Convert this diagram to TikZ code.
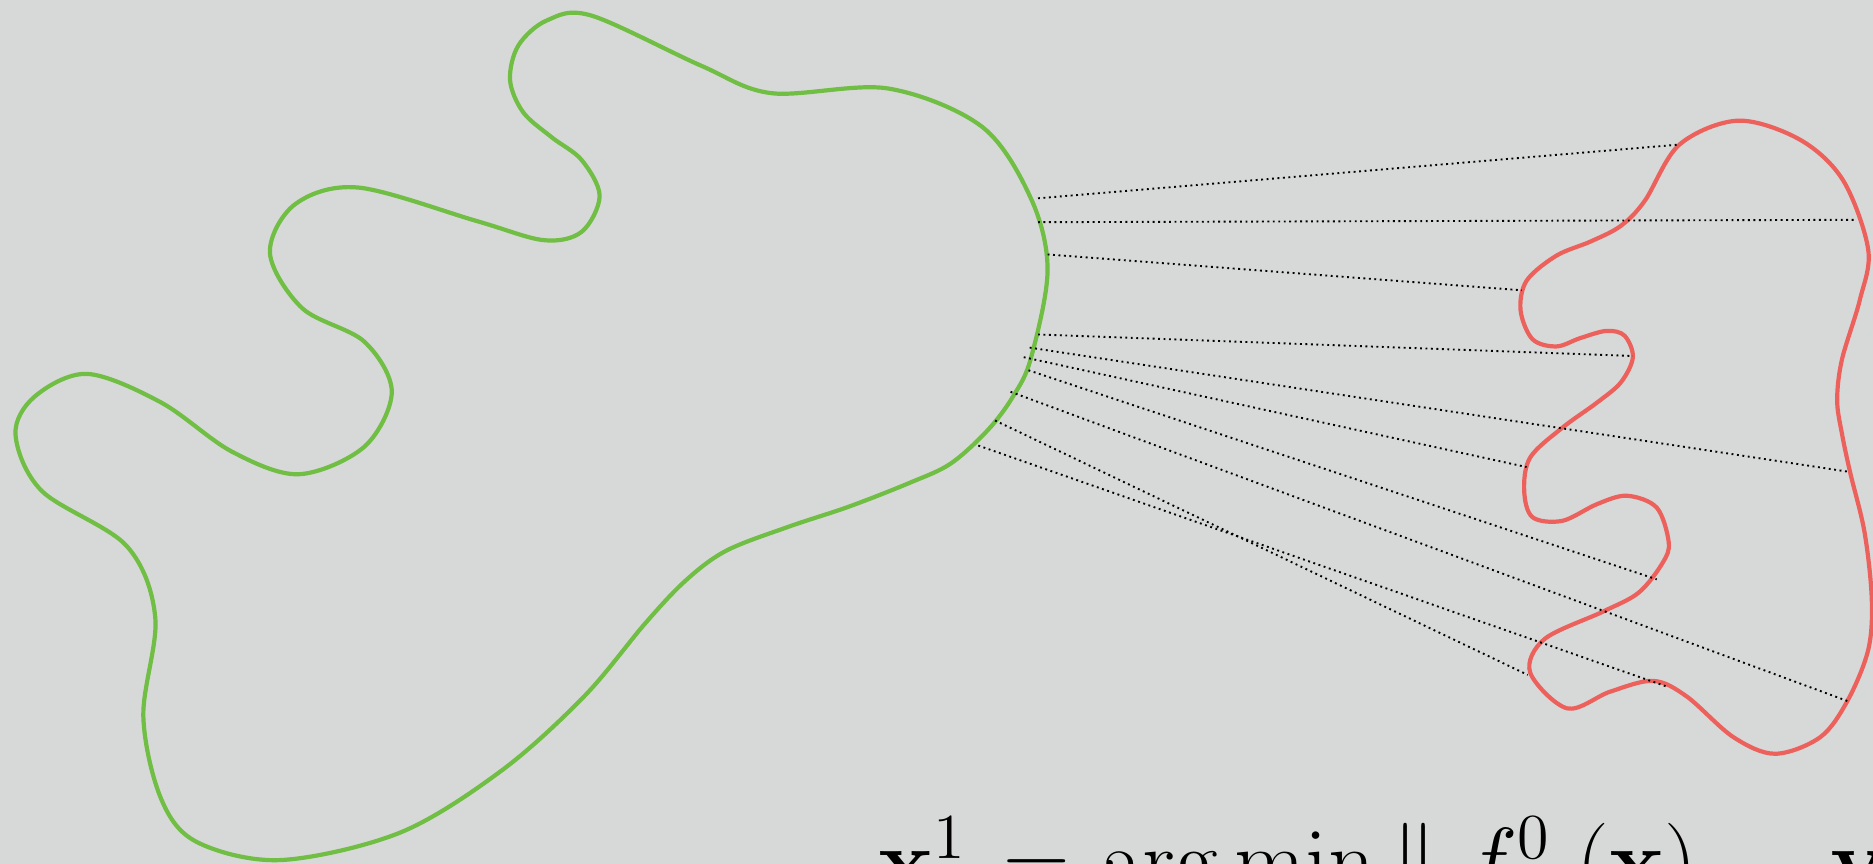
\documentclass[tikz,border=0pt]{standalone}
\usepackage{graphicx}
\definecolor{bggray}{RGB}{215,217,216}
\definecolor{leafgreen}{RGB}{112,190,68}
\definecolor{coral}{RGB}{237,97,92}
\begin{document}
\begin{tikzpicture}[x=0.01cm, y=-0.01cm,
  blob/.style={line width=1pt, line join=round},
  pairline/.style={line width=0.45pt, dash pattern=on 0.45pt off 0.85pt}]
  \fill[bggray] (0,0) rectangle (1568,723);
  \useasboundingbox (0,0) rectangle (1568,723);
  \clip (0,0) rectangle (1568,723);
  % input space
  \draw[blob, leafgreen] plot[smooth cycle, tension=0.55] coordinates {
    (495,13) (458,17) (434,38) (427,67) (438,94) (462,115) (487,134)
    (502,164) (487,194)
    (455,201) (399,185) (300,157) (247,171) (226,212) (253,258) (305,286)
    (328,328) (305,374) (250,397) (194,378) (135,337) (73,313) (29,332)
    (13,364) (35,411) (106,457) (130,517) (120,600) (135,669) (165,705)
    (235,720) (335,697) (420,645) (489,583) (540,522) (574,486) (608,461)
    (660,441) (711,424) (762,404) (796,388) (827,360) (848,332) (863,300)
    (877,226) (863,166) (822,106) (743,74) (646,78) (587,55)};
  % output space
  \draw[blob, coral] plot[smooth cycle, tension=0.55] coordinates {
    (1406,121) (1455,101) (1507,117) (1543,151) (1564,209) (1557,251)
    (1542,301) (1538,335) (1542,363) (1549,396) (1561,446) (1567,502)
    (1564,544) (1547,586) (1524,617) (1486,631) (1451,617) (1412,583)
    (1384,570) (1348,579) (1312,593) (1281,563) (1293,535) (1342,512)
    (1372,496) (1392,471) (1397,454) (1387,425) (1362,415) (1337,422)
    (1308,436) (1283,433) (1276,411) (1281,383) (1308,358) (1337,337)
    (1357,320) (1367,299) (1360,281) (1345,277) (1323,283) (1303,290)
    (1283,284) (1273,260) (1278,235) (1303,214) (1332,202) (1357,189)
    (1377,168)};
  % samples and their images
  \coordinate (x1) at (869,166);  \coordinate (y1) at (1406,121);
  \coordinate (x2) at (869,186);  \coordinate (y2) at (1554,184);
  \coordinate (x3) at (877,213);  \coordinate (y3) at (1274,243);
  \coordinate (x4) at (869,280);  \coordinate (y4) at (1367,298);
  \coordinate (x5) at (862,291);  \coordinate (y5) at (1548,395);
  \coordinate (x6) at (857,299);  \coordinate (y6) at (1278,391);
  \coordinate (x7) at (861,310);  \coordinate (y7) at (1387,485);
  \coordinate (x8) at (846,328);  \coordinate (y8) at (1547,587);
  \coordinate (x9) at (833,352);  \coordinate (y9) at (1279,565);
  \coordinate (x10) at (819,373); \coordinate (y10) at (1396,575);
  \foreach \i in {1,...,10}
    \draw[pairline] (x\i) -- (y\i);
  \node[anchor=base west, inner sep=0pt, font=\huge]
    (update) at (735,747) {\scalebox{1.06}{$\mathbf{x}^1 \mkern2mu = \mkern1mu \arg\min \| \mkern5mu f^0 \mkern5mu (\mathbf{x}) \mkern4mu - \mathbf{y}$}};
\end{tikzpicture}
\end{document}
